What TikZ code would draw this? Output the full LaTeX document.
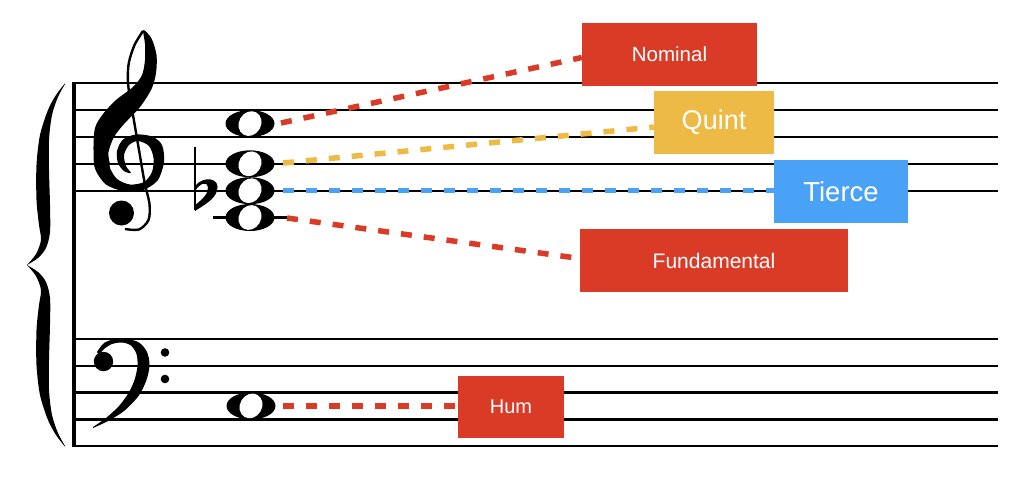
\documentclass[tikz,border=0pt]{standalone}
\usepackage{fontspec}
\newfontfamily\lab{Liberation Sans}
\definecolor{bred}{RGB}{218,59,38}
\definecolor{byel}{RGB}{237,187,69}
\definecolor{bblue}{RGB}{74,162,247}
\tikzset{
  staffline/.style={line width=2.2pt, black},
  leader/.style={line width=5.5pt, dash pattern=on 11pt off 12pt},
  labbox/.style={rectangle, inner sep=0pt, text=white},
  wnote/.pic={
    \fill (0,0) ellipse [x radius=24.5pt, y radius=13.5pt];
    \fill[white, rotate=60] (0,0) ellipse [x radius=12.8pt, y radius=11pt];
  }
}
\newcommand\bracehalf{%
  \fill plot[smooth] coordinates {(65,83.3) (56,95) (48,110) (40,135) (36.5,165) (36.5,200) (39,225) (41,240) (36,254) (27,265)}
    -- plot[smooth] coordinates {(27,265) (38,258) (46,248) (50,232) (50,205) (49,170) (49,140) (52,115) (58,97) (65,84)} -- cycle;}
\begin{document}
\begin{tikzpicture}[x=1pt,y=-1pt]
\useasboundingbox (0,0) rectangle (1024,482);
\fill[white] (0,0) rectangle (1024,482);
% staves
\foreach \y in {83.3,110.2,137.0,163.8,190.7,338.7,365.6,392.5,419.4,446.3}
  \draw[staffline] (74,\y) -- (998,\y);
\draw[line width=3.5pt] (74,82.2) -- (74,447.4);
% brace
\bracehalf
\begin{scope}[shift={(0,530)}, yscale=-1]
  \bracehalf
\end{scope}
% treble clef: upper part (loop side + diagonal)
\fill plot[smooth cycle] coordinates {(143.3,30) (151.5,38.5) (156.5,55) (156,73) (151.5,89) (140,107) (124,124) (114,137) (108.5,152) (108.5,165) (95.5,168) (93.5,150) (95,128) (103,114) (116,100) (133,87) (142,75) (145,60) (145,44)};
% treble clef: body and spiral
\fill plot[smooth cycle] coordinates {(108.5,160) (110,168) (117,179) (130,184.5) (144,182) (152,172) (153.5,158) (149,146) (138,141) (129,145) (124,155) (126,166) (131,173) (124,171) (118,163) (117,151) (123,139.5) (136,134.5) (152,136.5) (162,145) (164,162) (157.5,180.5) (142,190.5) (123,191) (106,184.5) (96,171) (94.5,160)};
\draw[line width=2.4pt] plot[smooth] coordinates {(143,31) (134.5,45) (129,62) (127.8,78) (129.5,96) (133.5,118) (139,150) (144.5,182) (149.5,204) (148.5,220) (139,229.5) (125,229)};
\fill (121.5,213) circle [radius=12.5pt];
% bass clef
\fill plot[smooth] coordinates {(97,352) (104,343) (115,339) (126,338.5) (139,342.5) (147,352) (149.5,365) (146.5,380) (138.5,396) (124,411) (108,421) (93,428)}
  -- plot[smooth] coordinates {(93,427) (106,418) (119,406) (128.5,393) (134.5,380) (137.5,366) (136.5,354) (131,345.5) (122,342.5) (112,344) (104,349) (99,355)} -- cycle;
\fill (103.5,361.5) circle [radius=9.7pt];
\fill (165,352.5) circle [radius=4.3pt];
\fill (165,379) circle [radius=4.3pt];
% flat
\draw[line width=2.2pt] (195,146.5) -- (195,210);
\fill (195,186) .. controls (204,175) and (221,178) .. (217,191) .. controls (214,200) and (204,205) .. (195,211)
  -- (195,205) .. controls (202,200) and (209,193) .. (208,187) .. controls (207,181) and (200,183) .. (195,191) -- cycle;
% ledger line and notes
\draw[line width=2.2pt] (213,217.5) -- (289,217.5);
\pic at (250,123.6) {wnote};
\pic at (250,163.8) {wnote};
\pic at (250,190.7) {wnote};
\pic at (250,217.5) {wnote};
\pic at (251,405.9) {wnote};
% leader start points
\coordinate (pC5) at (281,123);
\coordinate (pG4) at (283,163);
\coordinate (pE4) at (283,190.6);
\coordinate (pC4) at (287,218);
\coordinate (pC3) at (283,406);
% labels
\node[labbox, fill=bred, minimum width=175pt, minimum height=63pt, font={\lab\fontsize{20.5pt}{24pt}\selectfont}] (nominal) at (669.5,54.5) {Nominal};
\node[labbox, fill=byel, minimum width=120pt, minimum height=63pt, font={\lab\fontsize{27pt}{32pt}\selectfont}] (quint) at (714,122.5) {Quint};
\node[labbox, fill=bblue, minimum width=134pt, minimum height=63pt, font={\lab\fontsize{27.5pt}{32pt}\selectfont}] (tierce) at (841,191.5) {Tierce};
\node[labbox, fill=bred, minimum width=268pt, minimum height=63pt, font={\lab\fontsize{21pt}{25pt}\selectfont}] (fund) at (714,260.5) {Fundamental};
\node[labbox, fill=bred, minimum width=106pt, minimum height=62pt, font={\lab\fontsize{20pt}{24pt}\selectfont}] (hum) at (511,407) {Hum};
% leaders
\draw[leader, bred] (pC5) -- ([yshift=-3pt]nominal.west);
\draw[leader, byel] (pG4) -- ([yshift=-4.5pt]quint.west);
\draw[leader, bblue] (pE4) -- ([yshift=0.9pt]tierce.west);
\draw[leader, bred] (pC4) -- ([yshift=2pt]fund.west);
\draw[leader, bred] (pC3) -- ([yshift=1pt]hum.west);
\end{tikzpicture}
\end{document}
